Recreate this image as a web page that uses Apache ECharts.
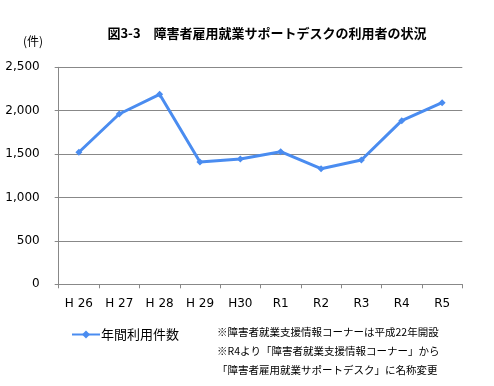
<!DOCTYPE html>
<html><head><meta charset="utf-8">
<script src="https://cdn.jsdelivr.net/npm/echarts@6/dist/echarts.min.js"></script>
<style>html,body{margin:0;padding:0;background:#fff}#c{width:494px;height:386px}</style>
</head><body><div id="c"></div>
<script>
const categories = ['H 26','H 27','H 28','H 29','H30','R1','R2','R3','R4','R5'];
const usage = [1521, 1962, 2189, 1409, 1443, 1528, 1332, 1432, 1885, 2092];
const seriesName = '年間利用件数';
const titleText = '図3-3　障害者雇用就業サポートデスクの利用者の状況';
const unitText = '(件)';
const notes = ['※障害者就業支援情報コーナーは平成22年開設', '※R4より「障害者就業支援情報コーナー」から', '「障害者雇用就業サポートデスク」に名称変更'];
const jp = '"Noto Sans CJK JP", sans-serif';
const lat = '"DejaVu Sans", sans-serif';
const chart = echarts.init(document.getElementById('c'));
chart.setOption({
  animation: false,
  backgroundColor: '#fff',
  title: [
    {text: titleText, left: 262, top: 22, textAlign: 'center', textStyle: {fontFamily: jp, fontSize: 13, fontWeight: 'bold', color: '#000'}},
    {text: unitText, left: 18, top: 30, textStyle: {fontFamily: jp, fontSize: 12, fontWeight: 'normal', color: '#000'}}
  ],
  legend: {
    data: [seriesName], left: 66, top: 323, itemWidth: 28, itemHeight: 10, itemGap: 4,
    textStyle: {fontFamily: jp, fontSize: 13, color: '#000', padding: [0,0,0,-4]}
  },
  graphic: notes.map((t, i) => ({
    type: 'text', left: 217, top: 327 + i * 18.7,
    style: {text: t, font: '10.5px ' + jp, fill: '#000'}
  })),
  grid: {left: 58.7, right: 31.7, top: 67.3, bottom: 101.7},
  xAxis: {
    type: 'category', data: categories, boundaryGap: true,
    axisLine: {lineStyle: {color: '#888'}},
    axisTick: {show: true, length: 4, lineStyle: {color: '#888'}},
    axisLabel: {fontFamily: lat, fontSize: 12, color: '#000', margin: 14}
  },
  yAxis: {
    type: 'value', min: 0, max: 2500, interval: 500,
    axisLine: {show: true, lineStyle: {color: '#888'}},
    axisTick: {show: true, length: 4, lineStyle: {color: '#888'}},
    splitLine: {lineStyle: {color: '#888'}},
    axisLabel: {fontFamily: lat, fontSize: 12, color: '#000', margin: 19,
      formatter: v => v.toLocaleString('en-US')}
  },
  series: [{
    name: seriesName, type: 'line', data: usage,
    symbol: 'diamond', symbolSize: 7,
    lineStyle: {color: '#4a8cf0', width: 3},
    itemStyle: {color: '#4a8cf0'}
  }]
});
</script></body></html>
